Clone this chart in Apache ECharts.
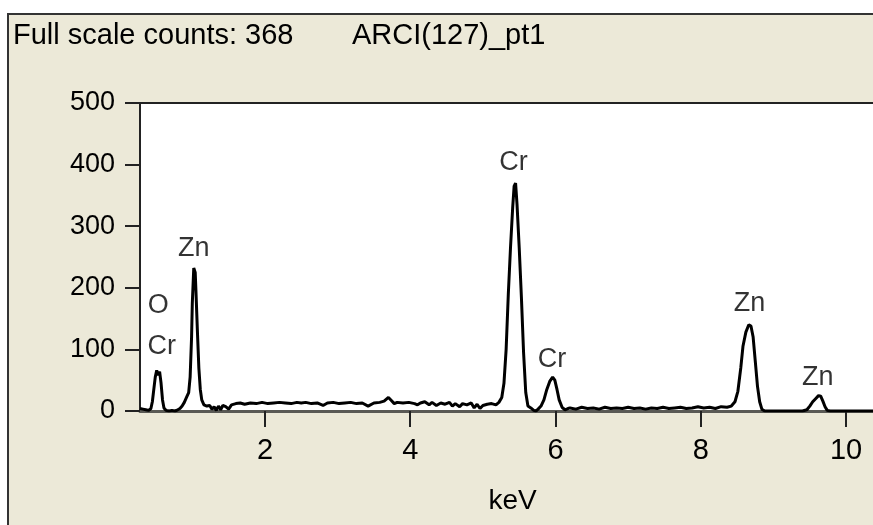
<!DOCTYPE html>
<html>
<head>
<meta charset="utf-8">
<script src="https://cdn.jsdelivr.net/npm/echarts@6/dist/echarts.min.js"></script>
<style>
  html, body { margin: 0; padding: 0; background: #fff; }
  #main { width: 873px; height: 525px; }
</style>
</head>
<body>
<div id="main"></div>
<script>
var chart = echarts.init(document.getElementById('main'));

// spectrum, [keV, counts]
var spectrum = [
  [0.28,4],[0.32,3],[0.36,2],[0.40,1],[0.43,4],[0.45,15],[0.47,35],[0.49,55],[0.51,66],[0.53,58],
  [0.55,64],[0.57,45],[0.59,18],[0.61,5],[0.64,1],[0.68,0],[0.72,1],[0.76,0],[0.80,2],[0.83,4],
  [0.86,8],[0.89,14],[0.92,22],[0.95,30],[0.97,55],[0.99,120],[1.00,175],[1.02,232],[1.04,225],[1.05,195],
  [1.07,130],[1.09,70],[1.11,35],[1.13,18],[1.16,10],[1.20,8],[1.24,9],[1.27,3],[1.30,7],[1.33,1],
  [1.36,8],[1.39,2],[1.42,9],[1.46,7],[1.50,3],[1.54,10],[1.60,12],[1.66,13],[1.72,11],[1.80,13],
  [1.88,12],[1.96,14],[2.04,12],[2.12,13],[2.20,14],[2.28,13],[2.36,12],[2.44,14],[2.50,13],[2.56,14],
  [2.64,12],[2.72,13],[2.80,9],[2.86,13],[2.94,14],[3.02,12],[3.10,13],[3.18,14],[3.26,12],[3.34,13],
  [3.42,8],[3.50,13],[3.58,14],[3.64,16],[3.70,22],[3.74,17],[3.78,12],[3.82,14],[3.90,13],[3.98,14],
  [4.06,12],[4.10,10],[4.14,13],[4.20,15],[4.26,10],[4.30,14],[4.36,9],[4.42,13],[4.48,11],[4.54,14],
  [4.58,8],[4.62,12],[4.68,7],[4.72,12],[4.78,10],[4.84,13],[4.88,5],[4.92,11],[4.96,4],[5.00,9],
  [5.06,11],[5.12,12],[5.18,10],[5.22,14],[5.26,22],[5.29,45],[5.32,100],[5.35,190],[5.38,265],[5.41,330],
  [5.43,365],[5.45,370],[5.47,335],[5.50,265],[5.53,185],[5.56,95],[5.59,30],[5.62,8],[5.66,5],[5.70,1],
  [5.73,0],[5.76,3],[5.80,8],[5.84,18],[5.88,35],[5.92,48],[5.96,55],[5.99,50],[6.02,35],[6.05,18],
  [6.09,6],[6.13,2],[6.17,4],[6.20,5],[6.28,3],[6.36,6],[6.44,4],[6.52,5],[6.60,3],[6.68,6],
  [6.76,4],[6.84,5],[6.92,4],[7.00,6],[7.08,4],[7.16,5],[7.24,3],[7.32,5],[7.40,4],[7.48,6],
  [7.56,4],[7.64,5],[7.72,6],[7.80,4],[7.88,5],[7.96,7],[8.04,5],[8.12,6],[8.20,4],[8.28,7],
  [8.36,6],[8.42,8],[8.47,15],[8.51,32],[8.55,70],[8.58,105],[8.62,128],[8.66,140],[8.69,138],[8.72,120],
  [8.75,80],[8.78,40],[8.81,15],[8.84,3],[8.88,0],[9.00,0],[9.20,0],[9.40,0],[9.46,2],[9.50,8],
  [9.54,15],[9.58,20],[9.62,25],[9.65,24],[9.68,16],[9.71,7],[9.74,1],[9.78,0],[10.00,0],[10.40,0]
];

// element labels, [text, keV, counts]
var peakLabels = [
  ['O', 0.53, 172],
  ['Cr', 0.58, 104],
  ['Zn', 1.02, 263],
  ['Cr', 5.42, 403],
  ['Cr', 5.95, 84],
  ['Zn', 8.67, 175],
  ['Zn', 9.61, 55]
];

var xTicks = [2, 4, 6, 8, 10];
var yTicks = [0, 100, 200, 300, 400, 500];

var fontName = '"Liberation Sans", Arial, sans-serif';

option = {
  backgroundColor: '#fff',
  animation: false,
  graphic: [
    {
      type: 'rect',
      z: -10,
      shape: { x: 8, y: 14, width: 900, height: 540 },
      style: { fill: '#ece9d8', stroke: '#333', lineWidth: 2 }
    },
    {
      type: 'text',
      left: 13, top: 21,
      style: { text: 'Full scale counts: 368', font: '29px ' + fontName, fill: '#000' }
    },
    {
      type: 'text',
      left: 352, top: 21,
      style: { text: 'ARCI(127)_pt1', font: '29px ' + fontName, fill: '#000' }
    }
  ],
  grid: {
    left: 140,
    right: 0,
    top: 103,
    bottom: 114,
    show: true,
    backgroundColor: '#fff',
    borderWidth: 0
  },
  xAxis: [
    {
      type: 'value',
      min: 0.28,
      max: 10.37,
      name: 'keV',
      nameLocation: 'middle',
      nameGap: 76,
      nameTextStyle: { color: '#000', fontSize: 28, fontFamily: fontName, padding: [0, 0, 0, 12] },
      splitLine: { show: false },
      axisLine: { show: true, lineStyle: { color: '#5a5a55', width: 3 } },
      axisTick: { show: true, length: 16, customValues: xTicks, lineStyle: { color: '#222', width: 2 } },
      axisLabel: { customValues: xTicks, margin: 25, color: '#000', fontSize: 29, fontFamily: fontName }
    },
    {
      // top border of the plot box
      type: 'value',
      position: 'top',
      min: 0.28,
      max: 10.37,
      splitLine: { show: false },
      axisLine: { show: true, lineStyle: { color: '#222', width: 2 } },
      axisTick: { show: false },
      axisLabel: { show: false }
    }
  ],
  yAxis: {
    type: 'value',
    min: 0,
    max: 500,
    splitLine: { show: false },
    axisLine: { show: true, lineStyle: { color: '#222', width: 2 } },
    axisTick: { show: true, length: 15, customValues: yTicks, lineStyle: { color: '#222', width: 2 } },
    axisLabel: { customValues: yTicks, margin: 25, color: '#000', fontSize: 27, fontFamily: fontName }
  },
  series: [
    {
      name: 'spectrum',
      type: 'line',
      data: spectrum,
      showSymbol: false,
      lineStyle: { color: '#000', width: 3 },
      clip: true,
      silent: true
    },
    {
      name: 'labels',
      type: 'scatter',
      symbolSize: 0,
      silent: true,
      data: peakLabels.map(function (p) { return { name: p[0], value: [p[1], p[2]] }; }),
      label: {
        show: true,
        position: 'inside',
        formatter: '{b}',
        color: '#000',
        fontSize: 27,
        fontFamily: fontName
      }
    }
  ]
};

chart.setOption(option);
</script>
</body>
</html>
